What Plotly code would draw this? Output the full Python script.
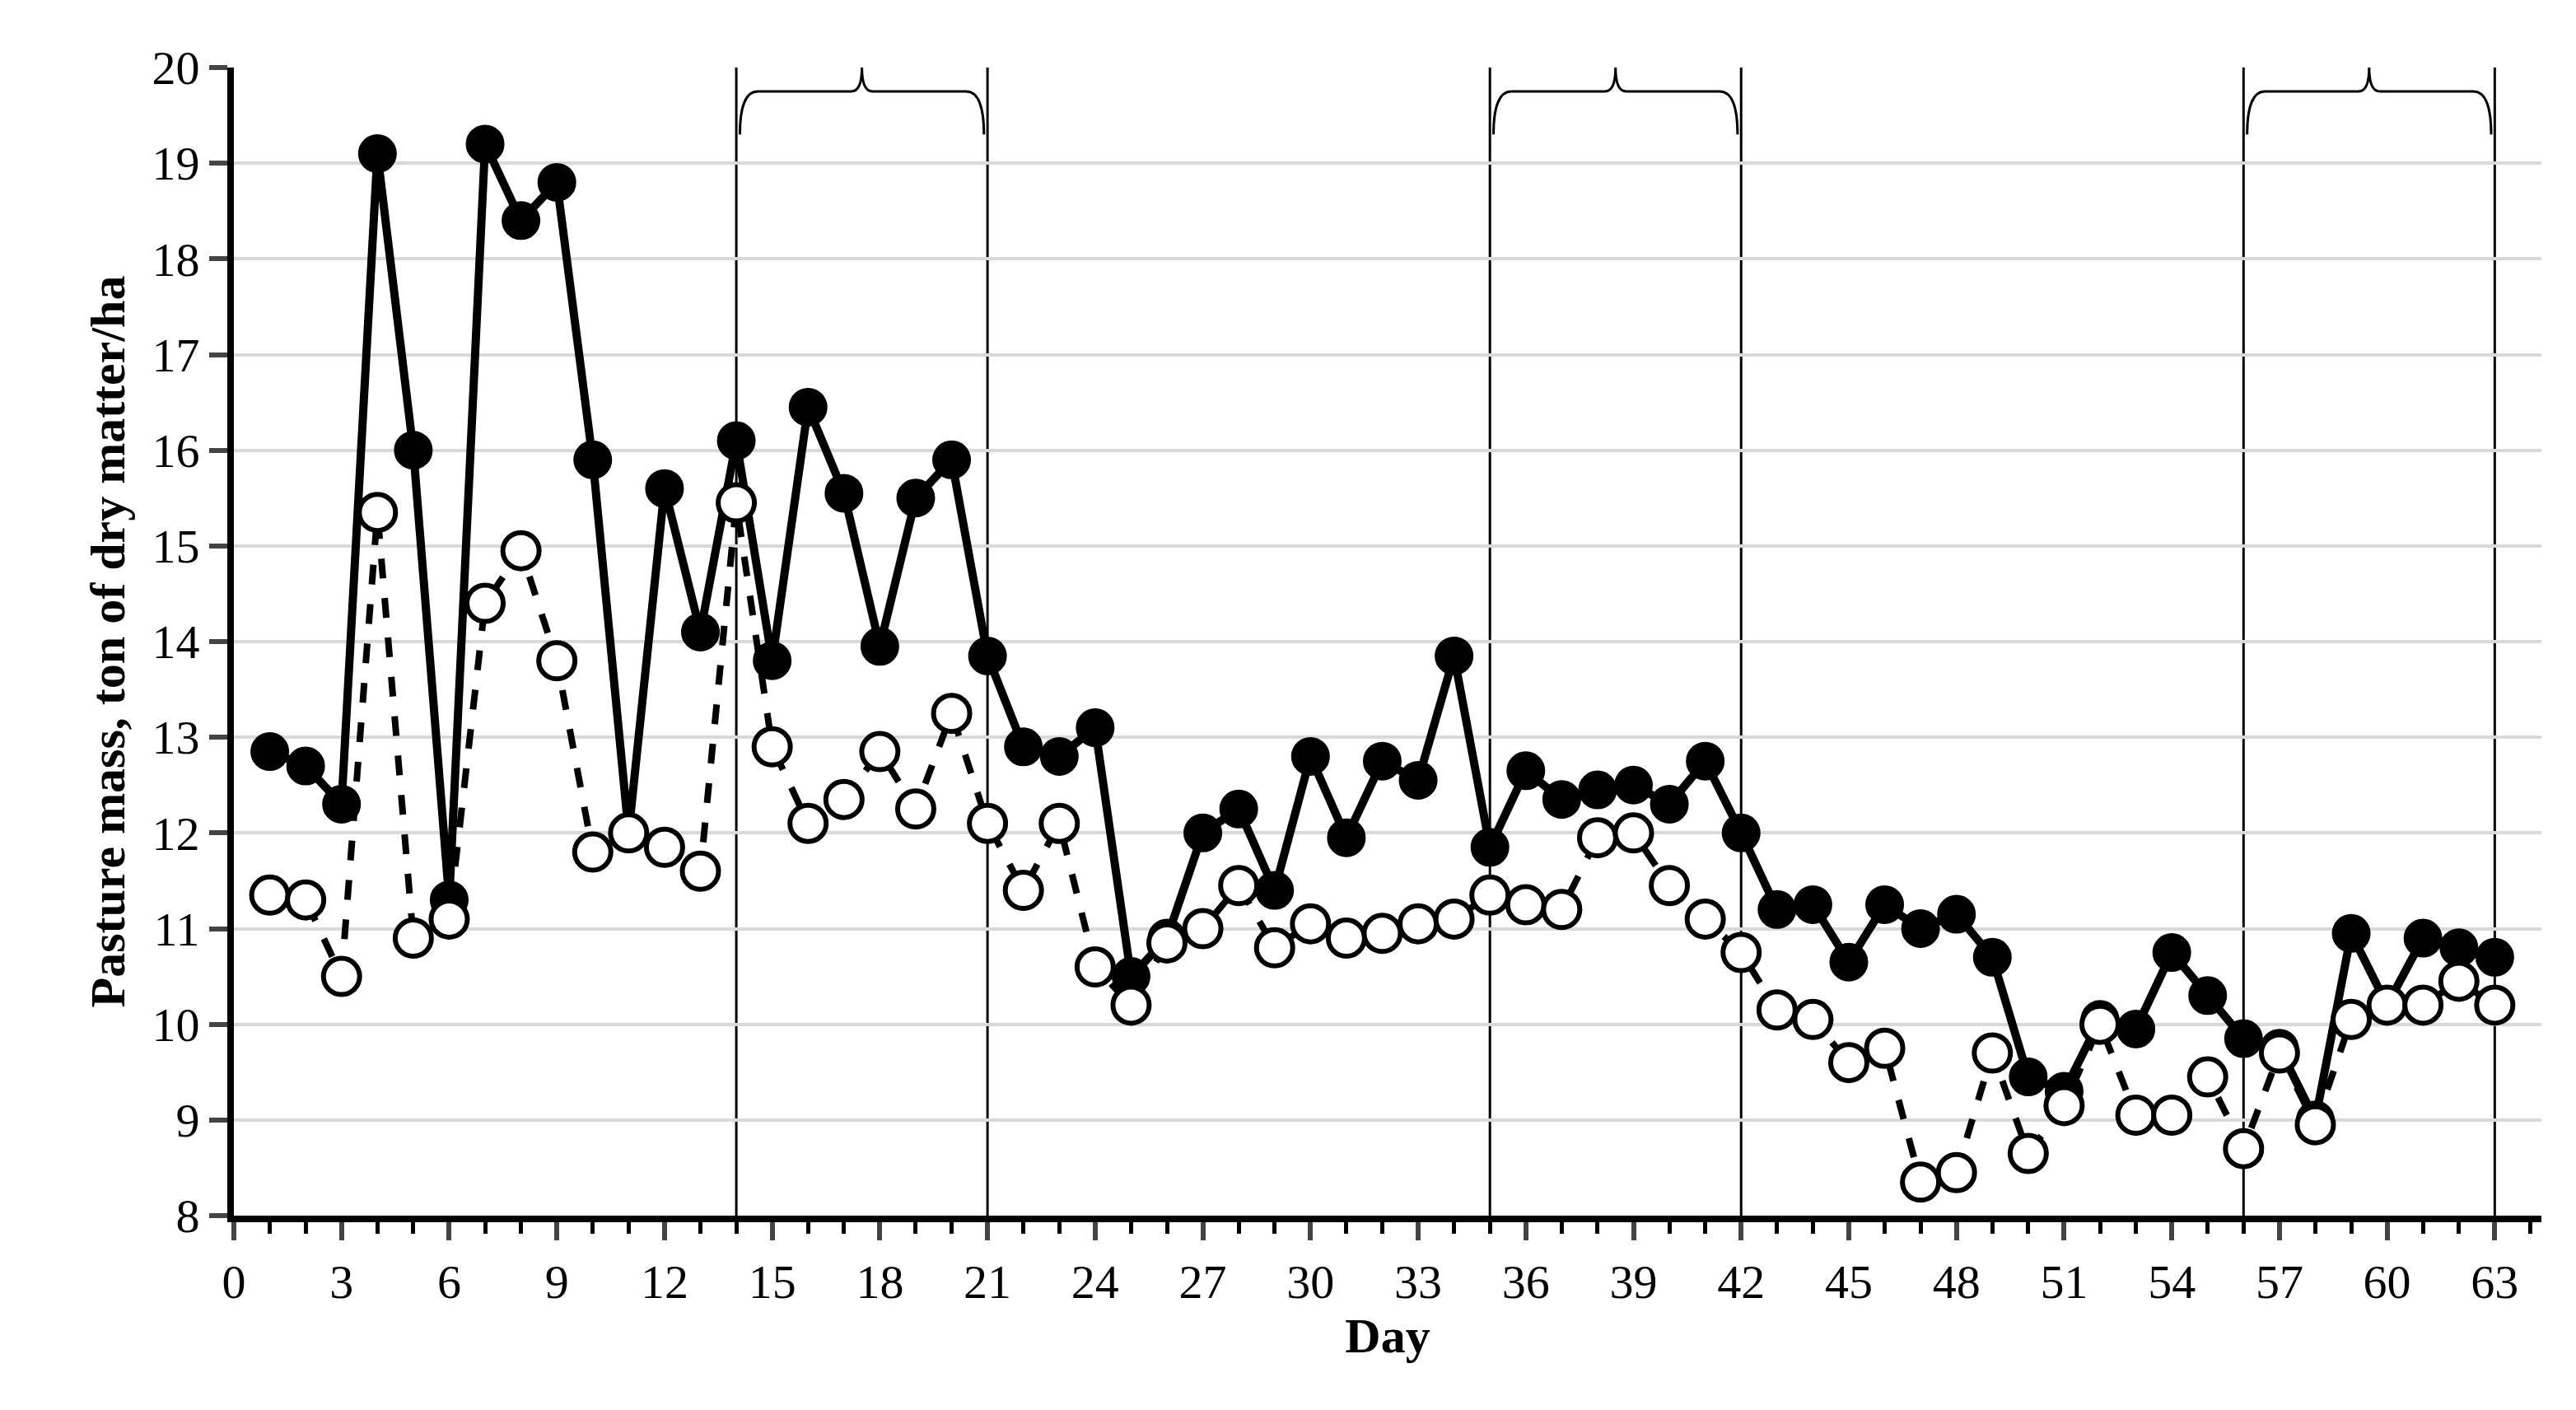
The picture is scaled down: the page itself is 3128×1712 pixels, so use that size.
import plotly.graph_objects as go

days = list(range(1, 64))
solid = [12.85,12.7,12.3,19.1,16.0,11.3,19.2,18.4,18.8,15.9,12.0,15.6,14.1,16.1,13.8,16.45,15.55,13.95,15.5,15.9,
         13.85,12.9,12.8,13.1,10.5,10.9,12.0,12.25,11.4,12.8,11.95,12.75,12.55,13.85,11.85,12.65,12.35,12.45,12.5,12.3,
         12.75,12.0,11.2,11.25,10.65,11.25,11.0,11.15,10.7,9.45,9.3,10.05,9.95,10.75,10.3,9.85,9.75,9.0,10.95,10.2,
         10.9,10.8,10.7]
hollow = [11.35,11.3,10.5,15.35,10.9,11.1,14.4,14.95,13.8,11.8,12.0,11.85,11.6,15.45,12.9,12.1,12.35,12.85,12.25,13.25,
          12.1,11.4,12.1,10.6,10.2,10.85,11.0,11.45,10.8,11.05,10.9,10.95,11.05,11.1,11.35,11.25,11.2,11.95,12.0,11.45,
          11.1,10.75,10.15,10.05,9.6,9.75,8.35,8.45,9.7,8.65,9.15,10.0,9.05,9.05,9.45,8.7,9.7,8.95,10.05,10.2,
          10.2,10.45,10.2]
periods = [(14, 21), (35, 42), (56, 63)]
xticks = list(range(0, 64, 3))

fig = go.Figure()
fig.add_trace(go.Scatter(x=days, y=solid, mode="lines+markers",
    line=dict(color="black", width=10),
    marker=dict(size=44, color="black", line=dict(color="black", width=3))))
fig.add_trace(go.Scatter(x=days, y=hollow, mode="lines+markers",
    line=dict(color="black", width=8, dash="dash"),
    marker=dict(size=44, color="white", line=dict(color="black", width=6))))

shapes = []
for a, b in periods:
    for d in (a, b):
        shapes.append(dict(type="line", x0=d, x1=d, y0=8, y1=20, xref="x", yref="y",
                           line=dict(color="black", width=3), layer="below"))
    m = (a + b) / 2
    path = (f"M {a+0.1},19.3 Q {a+0.1},19.75 {a+0.6},19.75 L {m-0.3},19.75 "
            f"Q {m},19.75 {m},20.0 Q {m},19.75 {m+0.3},19.75 L {b-0.6},19.75 "
            f"Q {b-0.1},19.75 {b-0.1},19.3")
    shapes.append(dict(type="path", path=path, xref="x", yref="y",
                       line=dict(color="black", width=3)))

font = "Liberation Serif"
fig.update_layout(
    width=3128, height=1712, plot_bgcolor="white", paper_bgcolor="white",
    margin=dict(l=276, r=50, t=74, b=244), showlegend=False, shapes=shapes,
    font=dict(family=font, size=58, color="black"),
    xaxis=dict(range=[0, 64.3], tickvals=xticks, ticks="outside", ticklen=22, tickwidth=6,
               showline=True, linewidth=8, linecolor="black", showgrid=False, zeroline=False,
               minor=dict(dtick=1, tick0=0, ticks="outside", ticklen=14, tickwidth=5, tickcolor="black"),
               title=dict(text="<b>Day</b>", font=dict(size=60), standoff=4)),
    yaxis=dict(range=[8, 20], dtick=1, ticks="outside", ticklen=22, tickwidth=6,
               showline=True, linewidth=8, linecolor="black", gridcolor="#d9d9d9", gridwidth=4,
               zeroline=False,
               title=dict(text="<b>Pasture mass, ton of dry matter/ha</b>", font=dict(size=60), standoff=16)),
)
fig.write_html("out.html")
